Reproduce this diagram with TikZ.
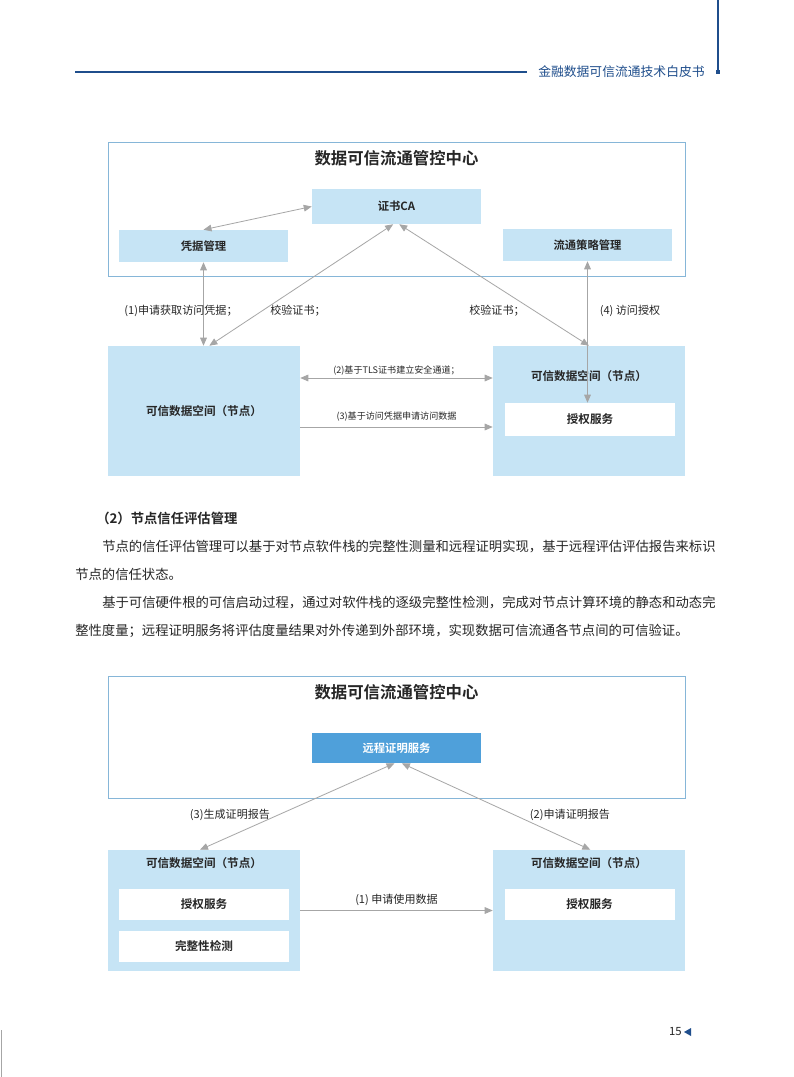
\documentclass[tikz,border=0pt]{standalone}
\usepackage{fontspec}
\setmainfont{Noto Sans CJK SC}[BoldFont={Noto Sans CJK SC Bold}]
\usetikzlibrary{arrows.meta}
\definecolor{paleblue}{HTML}{C6E4F5}
\definecolor{midblue}{HTML}{4FA0DA}
\definecolor{frameblue}{HTML}{86B6D8}
\definecolor{linkgrey}{HTML}{A6A6A6}
\definecolor{headblue}{HTML}{1F4E8C}
\definecolor{inkgrey}{HTML}{262626}

\begin{document}
\begin{tikzpicture}[x=0.75pt, y=-0.75pt,
  hub/.style={draw=frameblue, line width=0.7pt, minimum width=432.75pt, inner sep=0pt},
  hubtitle/.style={text=inkgrey, font=\fontsize{12.3}{14}\selectfont\bfseries},
  unit/.style={fill=paleblue, minimum width=126.75pt, inner sep=0pt, text=inkgrey, font=\fontsize{8.5}{10}\selectfont\bfseries},
  space/.style={fill=paleblue, minimum width=144pt, inner sep=0pt, text=inkgrey, font=\fontsize{8.7}{10}\selectfont\bfseries},
  service/.style={fill=white, minimum width=127.5pt, inner sep=0pt, text=inkgrey, font=\fontsize{8.7}{10}\selectfont\bfseries},
  tag/.style={text=inkgrey, inner sep=1pt, font=\fontsize{8.3}{10}\selectfont},
  smalltag/.style={text=inkgrey, inner sep=2pt, font=\fontsize{6.8}{8}\selectfont},
  link/.style={linkgrey, line width=0.6pt, >={Triangle[length=6pt, width=5pt]}},
  body/.style={anchor=west, inner sep=0pt, text=inkgrey, font=\fontsize{10}{12}\selectfont}]
  \fill[white] (0,0) rectangle (793,1077);
  \useasboundingbox (0,0) rectangle (793,1077);

  % page head
  \draw[headblue, line width=0.9pt] (75,72) -- (527,72);
  \node[anchor=west, inner sep=0pt, text=headblue, font=\fontsize{9.6}{11}\selectfont] (head) at (538,72) {金融数据可信流通技术白皮书};
  \draw[headblue, line width=0.9pt] (718,0) -- (718,70);
  \fill[headblue] (716,70) rectangle (720,74);

  % first figure
  \node[hub, minimum height=100.5pt] (hub1) at (396.5,209) {};
  \node[hubtitle] (title1) at (396.5,158) {数据可信流通管控中心};
  \node[unit, minimum height=26.25pt] (ca) at (396.5,206.5) {证书CA};
  \node[unit, minimum height=24pt] (cred) at (203.5,246) {凭据管理};
  \node[unit, minimum height=24pt] (policy) at (587.5,245) {流通策略管理};
  \node[space, minimum height=97.5pt] (lnode) at (204,411) {可信数据空间（节点）};
  \node[space, minimum height=97.5pt] (rnode) at (589,411) {};
  \node[text=inkgrey, font=\fontsize{8.7}{10}\selectfont\bfseries] (rlabel) at (589,376) {可信数据空间（节点）};
  \node[service, minimum height=24.75pt] (auth1) at (590,419.5) {授权服务};
  \draw[link, <->] (cred.north) -- (ca.west);
  \draw[link, <->] (cred.south) -- (cred.south |- lnode.north);
  \draw[link, <->] ([xshift=4pt]lnode.north) -- ([xshift=-2.5pt]ca.south);
  \draw[link, <->] ([xshift=2pt]ca.south) -- (rnode.north);
  \draw[link, <->] (policy.south) -- (policy.south |- auth1.north);
  \draw[link, <->] ([yshift=24.75pt]lnode.east) -- node[smalltag, above] {(2)基于TLS证书建立安全通道；} ([yshift=24.75pt]rnode.west);
  \draw[link, ->] ([yshift=-12pt]lnode.east) -- node[smalltag, above, yshift=2pt] {(3)基于访问凭据申请访问数据} ([yshift=-12pt]rnode.west);
  \node[tag] (ask1) at (181,311) {(1)申请获取访问凭据；};
  \node[tag] (check1) at (298,311) {校验证书；};
  \node[tag] (check2) at (497,311) {校验证书；};
  \node[tag] (grant1) at (630,311) {(4) 访问授权};

  % text between the figures
  \node[body, font=\fontsize{10}{12}\selectfont\bfseries] (sect) at (96,518) {（2）节点信任评估管理};
  \node[body] (line1) at (102,547) {节点的信任评估管理可以基于对节点软件栈的完整性测量和远程证明实现，基于远程评估评估报告来标识};
  \node[body] (line2) at (75,574) {节点的信任状态。};
  \node[body] (line3) at (102,603) {基于可信硬件根的可信启动过程，通过对软件栈的逐级完整性检测，完成对节点计算环境的静态和动态完};
  \node[body] (line4) at (75,631) {整性度量；远程证明服务将评估度量结果对外传递到外部环境，实现数据可信流通各节点间的可信验证。};

  % second figure
  \node[hub, minimum height=91.5pt] (hub2) at (396.5,737) {};
  \node[hubtitle] (title2) at (396.5,692) {数据可信流通管控中心};
  \node[unit, fill=midblue, text=white, minimum height=22.5pt] (remote) at (396.5,748) {远程证明服务};
  \node[space, minimum height=90.75pt] (lnode2) at (204,910.5) {};
  \node[text=inkgrey, font=\fontsize{8.7}{10}\selectfont\bfseries] (llabel2) at (204,863) {可信数据空间（节点）};
  \node[service, minimum height=23.25pt] (auth2) at (204,904.5) {授权服务};
  \node[service, minimum height=23.25pt] (integ) at (204,946.5) {完整性检测};
  \node[space, minimum height=90.75pt] (rnode2) at (589,910.5) {};
  \node[text=inkgrey, font=\fontsize{8.7}{10}\selectfont\bfseries] (rlabel2) at (589,863) {可信数据空间（节点）};
  \node[service, minimum height=23.25pt] (auth3) at (589.5,904.5) {授权服务};
  \draw[link, <->] ([xshift=-3pt]lnode2.north) -- ([xshift=-1.5pt]remote.south);
  \draw[link, <->] ([xshift=4pt]remote.south) -- ([xshift=1pt]rnode2.north);
  \draw[link, ->] (lnode2.east) -- node[tag, above, yshift=2pt] {(1) 申请使用数据} (rnode2.west);
  \node[tag] (report3) at (230,815) {(3)生成证明报告};
  \node[tag] (report2) at (570,815) {(2)申请证明报告};

  % page foot
  \node[anchor=east, inner sep=0pt, text=inkgrey, font=\fontsize{8.5}{10}\selectfont] (pageno) at (682,1032) {15};
  \fill[headblue] (684,1032) -- (691,1028) -- (691,1036) -- cycle;
  \draw[linkgrey, line width=1pt] (1.5,1030) -- (1.5,1077);
\end{tikzpicture}
\end{document}
